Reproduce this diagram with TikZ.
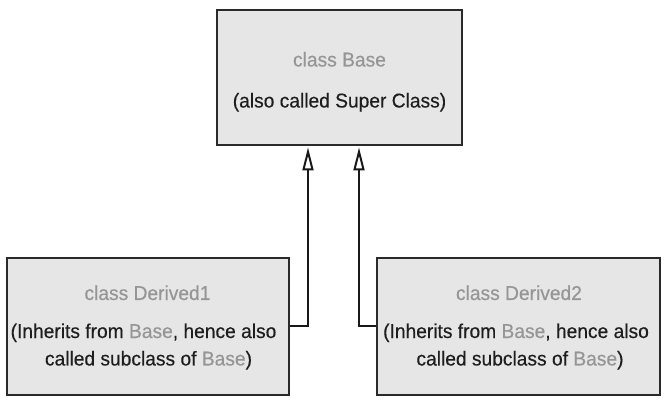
\documentclass[tikz,border=0pt]{standalone}
\usepackage{fontspec}
\setmainfont{Liberation Sans}[FakeStretch=0.96,FakeBold=0.3]
\usetikzlibrary{arrows.meta}
\definecolor{boxfill}{HTML}{E6E6E6}
\definecolor{boxline}{HTML}{2A2A2A}
\definecolor{gtext}{HTML}{959595}
\definecolor{btext}{HTML}{1E1E1E}
\begin{document}
\begin{tikzpicture}[x=1pt,y=-1pt,
  classbox/.style={draw=boxline, line width=2.5pt, fill=boxfill, inner sep=0pt},
  txt/.style={anchor=base, inner sep=0pt, text=btext, font=\fontsize{20}{24}\selectfont},
  gtxt/.style={txt, text=gtext},
  inh/.style={draw=black!90, line width=2pt, -{Triangle[open, length=23pt, width=11pt, fill=white]}}]
\useasboundingbox (0,0) rectangle (669,411);
\node[classbox, minimum width=245pt, minimum height=135pt] (base) at (339.5,77.5) {};
\node[classbox, minimum width=282pt, minimum height=137pt] (d1) at (148,326.5) {};
\node[classbox, minimum width=283pt, minimum height=137pt] (d2) at (518.5,326.5) {};
\node[gtxt] (bt) at (339.5,66.5) {class Base};
\node[txt] (bs) at (339.5,107.5) {(also called Super Class)};
\node[gtxt] (d1t) at (147.5,300) {class Derived1};
\node[txt] (d1a) at (143.5,338) {(Inherits from \textcolor{gtext}{Base}, hence also};
\node[txt] (d1b) at (148.5,365.5) {called subclass of \textcolor{gtext}{Base})};
\node[gtxt] (d2t) at (519,300) {class Derived2};
\node[txt] (d2a) at (516,338) {(Inherits from \textcolor{gtext}{Base}, hence also};
\node[txt] (d2b) at (520,365.5) {called subclass of \textcolor{gtext}{Base})};
\draw[inh] (d1.east) -| ([xshift=-31.5pt,yshift=-1.2pt]base.south);
\draw[inh] (d2.west) -| ([xshift=19.5pt,yshift=-1.2pt]base.south);
\end{tikzpicture}
\end{document}
